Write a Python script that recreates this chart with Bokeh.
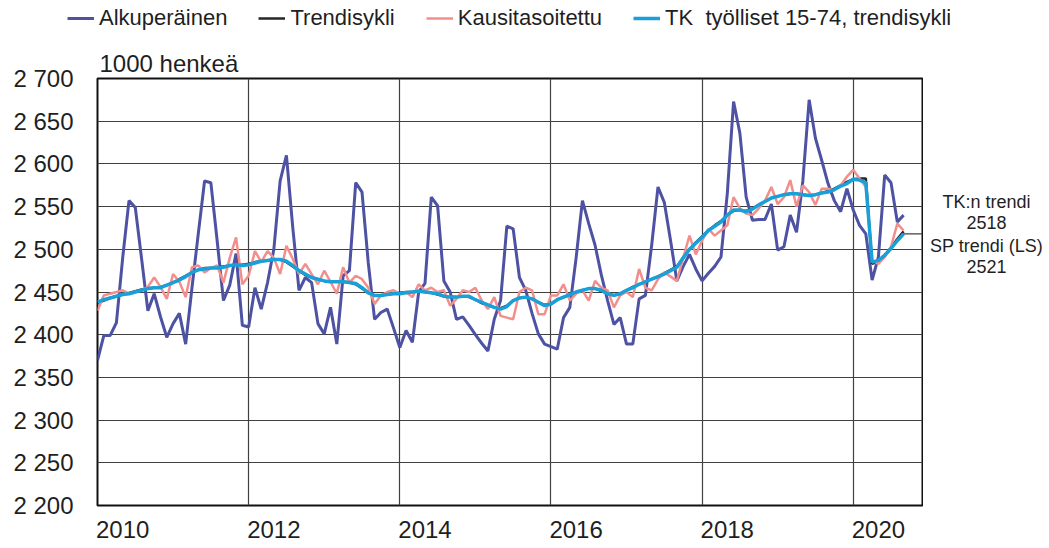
from bokeh.plotting import figure
from bokeh.models import Range1d, FixedTicker, Legend, LegendItem, Title
from bokeh.core.properties import value
from bokeh.layouts import column, row
from bokeh.embed import file_html
from bokeh.resources import INLINE

# ---------------- data (1000 persons, monthly from 2010-01) ----------------
alkuperainen = [
    2370, 2399, 2399, 2414, 2490, 2557, 2549, 2489, 2428, 2448, 2421, 2397,
    2413, 2425, 2389, 2455, 2518, 2580, 2578, 2510, 2440, 2458, 2495, 2411,
    2409, 2455, 2430, 2461, 2500, 2580, 2610, 2526, 2452, 2467, 2461, 2413,
    2401, 2432, 2389, 2469, 2475, 2578, 2567, 2484, 2418, 2426, 2430, 2408,
    2385, 2405, 2391, 2450, 2460, 2561, 2551, 2463, 2450, 2418, 2421, 2411,
    2400, 2390, 2381, 2418, 2440, 2527, 2524, 2467, 2452, 2425, 2401, 2389,
    2386, 2383, 2420, 2432, 2490, 2557, 2530, 2505, 2470, 2440, 2412, 2420,
    2389, 2389, 2442, 2446, 2505, 2573, 2555, 2510, 2463, 2480, 2494, 2477,
    2463, 2472, 2480, 2491, 2565, 2673, 2636, 2561, 2534, 2535, 2535, 2553,
    2499, 2503, 2540, 2520, 2580, 2675, 2630, 2604, 2577, 2557, 2544, 2571,
    2546, 2528, 2518, 2464, 2491, 2587, 2578, 2532, 2540]

trendisykli = [
    2437, 2440, 2443, 2445, 2447, 2449, 2451, 2453, 2454, 2455, 2456, 2458,
    2461, 2465, 2469, 2473, 2476, 2478, 2478, 2479, 2480, 2481, 2482, 2482,
    2483, 2485, 2486, 2487, 2488, 2488, 2485, 2480, 2475, 2470, 2467, 2465,
    2463, 2462, 2462, 2462, 2461, 2459, 2454, 2449, 2446, 2446, 2447, 2448,
    2449, 2450, 2450, 2451, 2450, 2449, 2447, 2445, 2444, 2444, 2445, 2444,
    2441, 2437, 2434, 2432, 2431, 2434, 2440, 2443, 2444, 2442, 2438, 2435,
    2436, 2441, 2444, 2447, 2450, 2452, 2454, 2454, 2451, 2448, 2446, 2448,
    2452, 2456, 2459, 2462, 2465, 2468, 2472, 2476, 2480, 2490, 2500, 2508,
    2515, 2522, 2528, 2533, 2540, 2545, 2546, 2545, 2548, 2552, 2556, 2560,
    2562, 2564, 2565, 2565, 2564, 2563, 2564, 2566, 2568, 2571, 2575, 2579,
    2582, 2583, 2583, 2483, 2486, 2493, 2502, 2512, 2521]

kausitasoitettu = [
    2428, 2446, 2448, 2450, 2452, 2448, 2450, 2452, 2456, 2467, 2456, 2442,
    2471, 2462, 2444, 2479, 2481, 2473, 2478, 2481, 2461, 2490, 2514, 2459,
    2469, 2498, 2485, 2498, 2490, 2471, 2504, 2489, 2471, 2483, 2471, 2459,
    2475, 2462, 2448, 2479, 2461, 2469, 2465, 2455, 2436, 2446, 2450, 2452,
    2448, 2450, 2444, 2459, 2452, 2455, 2450, 2452, 2434, 2442, 2452, 2450,
    2455, 2440, 2430, 2444, 2422, 2420, 2418, 2450, 2455, 2452, 2424, 2424,
    2446, 2446, 2459, 2440, 2448, 2452, 2440, 2463, 2455, 2452, 2432, 2446,
    2450, 2444, 2477, 2455, 2452, 2465, 2473, 2468, 2463, 2490, 2516, 2494,
    2510, 2524, 2516, 2522, 2528, 2561, 2548, 2542, 2540, 2548, 2557, 2573,
    2553, 2561, 2581, 2550, 2575, 2567, 2552, 2571, 2571, 2569, 2575, 2585,
    2593, 2583, 2573, 2487, 2483, 2491, 2503, 2530, 2522]

tk_trendi = [
    2438, 2441, 2443, 2445, 2447, 2448, 2450, 2452, 2454, 2455, 2455, 2458,
    2461, 2464, 2468, 2473, 2476, 2477, 2478, 2478, 2479, 2481, 2482, 2481,
    2482, 2484, 2486, 2487, 2488, 2488, 2486, 2481, 2475, 2471, 2467, 2465,
    2463, 2462, 2462, 2462, 2461, 2460, 2455, 2449, 2446, 2446, 2447, 2448,
    2448, 2449, 2450, 2451, 2450, 2449, 2448, 2445, 2444, 2444, 2445, 2445,
    2441, 2438, 2435, 2432, 2430, 2433, 2440, 2443, 2444, 2442, 2438, 2434,
    2436, 2441, 2444, 2447, 2450, 2452, 2454, 2454, 2452, 2448, 2446, 2448,
    2452, 2455, 2459, 2462, 2465, 2468, 2471, 2475, 2479, 2490, 2500, 2507,
    2514, 2522, 2527, 2532, 2540, 2546, 2546, 2544, 2547, 2552, 2556, 2560,
    2562, 2564, 2565, 2565, 2564, 2563, 2564, 2566, 2567, 2570, 2574, 2577,
    2582, 2581, 2578, 2485, 2487, 2493, 2501, 2510, 2518]

series_names = ["Alkuperäinen", "Trendisykli", "Kausitasoitettu",
                "TK  työlliset 15-74, trendisykli"]
series_colors = ["#4E52A3", "#262626", "#F28E8C", "#1AA0D8"]
series_widths = [3, 2.5, 2.5, 3.5]
year_labels = ["2010", "2012", "2014", "2016", "2018", "2020"]
y_ticks = [2200, 2250, 2300, 2350, 2400, 2450, 2500, 2550, 2600, 2650, 2700]
y_tick_labels = ["2 200", "2 250", "2 300", "2 350", "2 400", "2 450",
                 "2 500", "2 550", "2 600", "2 650", "2 700"]
unit_label = "1000 henkeä"
annot_lines = ["TK:n trendi", "2518", "SP trendi (LS)", "2521"]
annot_y = [2555, 2531, 2504, 2480]

# ---------------- layout constants ----------------
FONT = "Liberation Sans"
TXT = "#1f1f1f"
W, H = 1049, 548
TOP_H = 36
MAIN_W = 923
MAIN_H = H - TOP_H
RIGHT_W = W - MAIN_W
BT, BB = 42, 43

n = len(alkuperainen)
x = list(range(n))
x_end = n + 2

# ---------------- top strip: legend ----------------
top = figure(width=W, height=TOP_H, output_backend="svg", toolbar_location=None,
             x_axis_location=None, y_axis_location=None,
             x_range=Range1d(0, 1), y_range=Range1d(0, 1),
             min_border_left=0, min_border_right=0, min_border_top=0,
             min_border_bottom=0)
top.outline_line_color = None
top.grid.visible = False
# legend-only renderers: their single point lies outside the strip's ranges
dummies = [top.line([-5, -4], [-5, -4], line_color=c, line_width=w)
           for c, w in zip(series_colors, series_widths)]
legend = Legend(items=[LegendItem(label=nm, renderers=[r])
                       for nm, r in zip(series_names, dummies)],
                orientation="horizontal", location=(67, 5),
                spacing=31, glyph_width=27, glyph_height=20, label_standoff=5,
                padding=0, margin=0, border_line_color=None,
                background_fill_alpha=0,
                label_text_font=FONT, label_text_font_size="22px",
                label_text_color=TXT)
top.add_layout(legend)

# ---------------- main chart ----------------
p = figure(width=MAIN_W, height=MAIN_H, output_backend="svg",
           toolbar_location=None,
           x_range=Range1d(0, x_end), y_range=Range1d(y_ticks[0], y_ticks[-1]),
           min_border_left=97, min_border_right=1, min_border_top=BT,
           min_border_bottom=BB)
p.background_fill_color = "white"
p.border_fill_color = "white"
p.outline_line_color = "#111111"
p.outline_line_width = 2

p.add_layout(Title(text=unit_label, align="left", offset=2, standoff=3,
                   text_font=FONT, text_font_size="24px",
                   text_font_style="normal", text_color=TXT), "above")

p.xgrid.ticker = FixedTicker(ticks=[24 * k for k in range(len(year_labels))])
p.ygrid.ticker = FixedTicker(ticks=y_ticks)
for g in (p.xgrid, p.ygrid):
    g.grid_line_color = "#404040"
    g.grid_line_width = 1.2

xt = [4 + 24 * k for k in range(len(year_labels))]
p.xaxis.ticker = FixedTicker(ticks=xt)
p.xaxis.major_label_overrides = {t: l for t, l in zip(xt, year_labels)}
p.yaxis.ticker = FixedTicker(ticks=y_ticks)
p.yaxis.major_label_overrides = {t: l for t, l in zip(y_ticks, y_tick_labels)}
for ax in (p.xaxis, p.yaxis):
    ax.axis_line_color = None
    ax.major_tick_line_color = None
    ax.minor_tick_line_color = None
    ax.major_tick_out = 0
    ax.major_tick_in = 0
    ax.major_label_text_font = FONT
    ax.major_label_text_font_size = "24px"
    ax.major_label_text_color = TXT
p.xaxis.major_label_standoff = 15
p.yaxis.major_label_standoff = 24

for ys, c, w in zip([alkuperainen, trendisykli, kausitasoitettu, tk_trendi],
                    series_colors, series_widths):
    p.line(x, ys, line_color=c, line_width=w)

# leader line from last trend value to the right edge
p.segment(x0=[n - 1], y0=[tk_trendi[-1]], x1=[x_end], y1=[tk_trendi[-1]],
          line_color="#404040", line_width=1.2)

# ---------------- right strip: trend annotations ----------------
rt = figure(width=RIGHT_W, height=MAIN_H, output_backend="svg",
            toolbar_location=None, x_axis_location=None, y_axis_location=None,
            x_range=Range1d(0, RIGHT_W), y_range=p.y_range,
            min_border_left=0, min_border_right=0, min_border_top=BT,
            min_border_bottom=BB)
rt.outline_line_color = None
rt.grid.visible = False
rt.text(x=[RIGHT_W / 2] * len(annot_lines), y=annot_y, text=annot_lines,
        text_font=value(FONT), text_font_size="18px", text_color=TXT,
        text_align="center", text_baseline="middle")

layout = column(top, row(p, rt))
open("out.html", "w").write(file_html(layout, INLINE))
